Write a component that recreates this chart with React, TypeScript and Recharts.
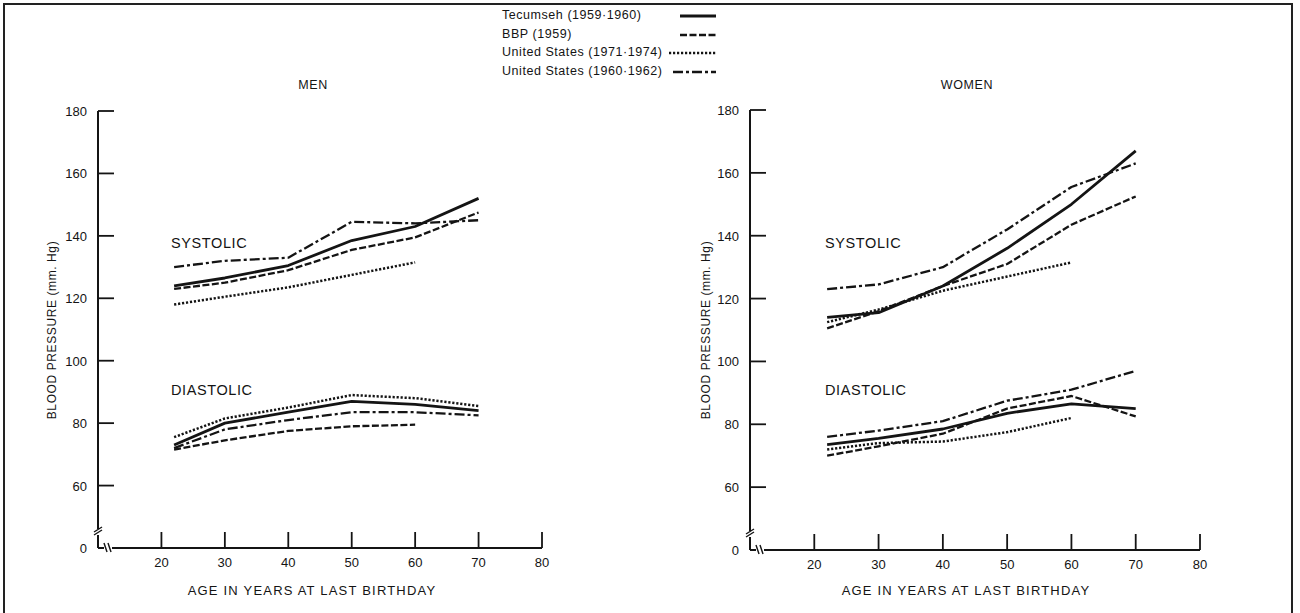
import { LineChart, Line, XAxis, YAxis } from "recharts";

const FONT = '"Liberation Sans", Arial, sans-serif';
const INK = "#141414";

// age group midpoints (x), tick values
const AGES = [22, 30, 40, 50, 60, 70];
const X_TICKS = [20, 30, 40, 50, 60, 70, 80];
// 40 sits at the broken bottom of the axis and is printed as "0"
const Y_TICKS = [40, 60, 80, 100, 120, 140, 160, 180];

const SERIES = [
  { key: "tec", name: "Tecumseh (1959·1960)" },
  { key: "bbp", name: "BBP (1959)" },
  { key: "us71", name: "United States (1971·1974)" },
  { key: "us60", name: "United States (1960·1962)" },
];

const LINE_STYLE: Record<string, { dash?: string; width: number; legendFrom: number }> = {
  tec: { width: 2.8, legendFrom: 13 },
  bbp: { dash: "7 2.5", width: 2.3, legendFrom: 13 },
  us71: { dash: "2.2 1.8", width: 2.5, legendFrom: 2 },
  us60: { dash: "10 3 3 3", width: 2.3, legendFrom: 6 },
};

// MEN
const menSysTec = [124, 126.5, 130.5, 138.5, 143, 152];
const menSysBbp = [123, 125, 129, 135.5, 139.5, 147.5];
const menSysUs71 = [118, 120.5, 123.5, 127.5, 131.5, null];
const menSysUs60 = [130, 132, 133, 144.5, 144, 145];

const menDiaTec = [73, 80, 83.5, 87, 86, 84];
const menDiaBbp = [71.5, 74.5, 77.5, 79, 79.5, null];
const menDiaUs71 = [75.5, 81.5, 85, 89, 88, 85.5];
const menDiaUs60 = [72, 78, 81, 83.5, 83.5, 82.5];

// WOMEN
const womenSysTec = [114, 115.5, 124, 136, 150, 167];
const womenSysBbp = [110.5, 116, 124, 131, 143.5, 152.5];
const womenSysUs71 = [112.5, 116.5, 122.5, 127, 131.5, null];
const womenSysUs60 = [123, 124.5, 130, 142, 155.5, 163];

const womenDiaTec = [73.5, 75.5, 78.5, 83.5, 86.5, 85];
const womenDiaBbp = [70, 73, 77, 85, 89, 82.5];
const womenDiaUs71 = [72, 74, 74.5, 77.5, 82, null];
const womenDiaUs60 = [76, 78, 81, 87.5, 91, 97];

type Vals = (number | null)[];

function buildRows(sys: Record<string, Vals>, dia: Record<string, Vals>) {
  return AGES.map((age, i) => {
    const row: Record<string, number | null> = { age };
    for (const s of SERIES) {
      row["sys_" + s.key] = sys[s.key][i];
      row["dia_" + s.key] = dia[s.key][i];
    }
    return row;
  });
}

const menRows = buildRows(
  { tec: menSysTec, bbp: menSysBbp, us71: menSysUs71, us60: menSysUs60 },
  { tec: menDiaTec, bbp: menDiaBbp, us71: menDiaUs71, us60: menDiaUs60 }
);
const womenRows = buildRows(
  { tec: womenSysTec, bbp: womenSysBbp, us71: womenSysUs71, us60: womenSysUs60 },
  { tec: womenDiaTec, bbp: womenDiaBbp, us71: womenDiaUs71, us60: womenDiaUs60 }
);

function XTick(props: any) {
  const { x, y, payload } = props;
  return (
    <g>
      <line x1={x} y1={y} x2={x} y2={y - 16} stroke={INK} strokeWidth={1.8} />
      <text x={x} y={y + 19} textAnchor="middle" fontSize={13} fontFamily={FONT} fill={INK}>
        {payload.value}
      </text>
    </g>
  );
}

function YTick(props: any) {
  const { x, y, payload } = props;
  if (payload.value === 40) {
    // axis break marks on both axes
    return (
      <g>
        <rect x={x - 3} y={y - 19} width={6} height={6} fill="#fff" />
        <line x1={x - 4} y1={y - 13} x2={x + 4} y2={y - 18} stroke={INK} strokeWidth={1.4} />
        <line x1={x - 4} y1={y - 16} x2={x + 4} y2={y - 21} stroke={INK} strokeWidth={1.4} />
        <rect x={x + 6} y={y - 3} width={8} height={6} fill="#fff" />
        <line x1={x + 6} y1={y - 5} x2={x + 9} y2={y + 4} stroke={INK} strokeWidth={1.4} />
        <line x1={x + 10} y1={y - 5} x2={x + 13} y2={y + 4} stroke={INK} strokeWidth={1.4} />
        <text x={x - 11} y={y} dy={5} textAnchor="end" fontSize={13} fontFamily={FONT} fill={INK}>
          0
        </text>
      </g>
    );
  }
  return (
    <g>
      <line x1={x} y1={y} x2={x + 16} y2={y} stroke={INK} strokeWidth={1.8} />
      <text x={x - 11} y={y} dy={5} textAnchor="end" fontSize={13} fontFamily={FONT} fill={INK}>
        {payload.value}
      </text>
    </g>
  );
}

function Panel({ rows, top, bottom, left, right }: any) {
  return (
    <LineChart width={600} height={613} data={rows} margin={{ top, bottom, left, right }}>
      <XAxis
        dataKey="age"
        type="number"
        domain={[10, 80]}
        ticks={X_TICKS}
        interval={0}
        height={1}
        tickSize={0}
        tickMargin={0}
        tickLine={false}
        axisLine={{ stroke: INK, strokeWidth: 2 }}
        tick={<XTick />}
      />
      <YAxis
        type="number"
        domain={[40, 180]}
        ticks={Y_TICKS}
        interval={0}
        width={1}
        tickSize={0}
        tickMargin={0}
        tickLine={false}
        axisLine={{ stroke: INK, strokeWidth: 2 }}
        tick={<YTick />}
      />
      {["sys", "dia"].flatMap((grp) =>
        SERIES.map((s) => (
          <Line
            key={grp + s.key}
            dataKey={grp + "_" + s.key}
            name={s.name}
            stroke={INK}
            strokeWidth={LINE_STYLE[s.key].width}
            strokeDasharray={LINE_STYLE[s.key].dash}
            strokeLinejoin="round"
            dot={false}
            activeDot={false}
            connectNulls={false}
            isAnimationActive={false}
          />
        ))
      )}
    </LineChart>
  );
}

const txt = (extra: React.CSSProperties): React.CSSProperties => ({
  position: "absolute",
  fontFamily: FONT,
  color: INK,
  whiteSpace: "nowrap",
  lineHeight: 1,
  ...extra,
});

function LegendBlock() {
  return (
    <div style={{ position: "absolute", left: 502, top: 9 }}>
      {SERIES.map((s) => {
        const st = LINE_STYLE[s.key];
        return (
          <div key={s.key} style={{ position: "relative", height: 18.5, width: 220 }}>
            <span style={txt({ left: 0, top: 0, fontSize: 12.5, letterSpacing: 0.55 })}>{s.name}</span>
            <svg width={50} height={14} style={{ position: "absolute", left: 165, top: 0 }}>
              <line
                x1={st.legendFrom}
                y1={7}
                x2={49}
                y2={7}
                stroke={INK}
                strokeWidth={s.key === "tec" ? 3.2 : 2.3}
                strokeDasharray={st.dash}
              />
            </svg>
          </div>
        );
      })}
    </div>
  );
}

function Annotations({ dx, center }: { dx: number; center: number }) {
  const curve = { fontSize: 14.5, letterSpacing: 0.6 };
  return (
    <>
      <div style={txt({ left: 171 + dx, top: 236, ...curve })}>SYSTOLIC</div>
      <div style={txt({ left: 171 + dx, top: 383, ...curve })}>DIASTOLIC</div>
      <div
        style={txt({
          left: 52 + dx,
          top: 330,
          fontSize: 12,
          letterSpacing: 0.6,
          transform: "translate(-50%, -50%) rotate(-90deg)",
        })}
      >
        BLOOD PRESSURE (mm. Hg)
      </div>
      <div style={txt({ left: center, top: 584, fontSize: 13, letterSpacing: 1.2, transform: "translateX(-50%)" })}>
        AGE IN YEARS AT LAST BIRTHDAY
      </div>
    </>
  );
}

export default function App() {
  return (
    <div style={{ position: "absolute", left: 0, top: 0, width: 1300, height: 613, background: "#fff", overflow: "hidden" }}>
      <div
        style={{
          position: "absolute",
          left: 3,
          top: 3,
          width: 1286,
          height: 640,
          border: "2px solid #222",
        }}
      />
      <LegendBlock />
      <div style={txt({ left: 313, top: 79, fontSize: 12.5, letterSpacing: 0.6, transform: "translateX(-50%)" })}>MEN</div>
      <div style={txt({ left: 967, top: 79, fontSize: 12.5, letterSpacing: 0.6, transform: "translateX(-50%)" })}>WOMEN</div>
      <div style={{ position: "absolute", left: 0, top: 0 }}>
        <Panel rows={menRows} top={111} bottom={64} left={97} right={58} />
      </div>
      <div style={{ position: "absolute", left: 650, top: 0 }}>
        <Panel rows={womenRows} top={110} bottom={62} left={99} right={50} />
      </div>
      <Annotations dx={0} center={312} />
      <Annotations dx={654} center={966} />
    </div>
  );
}
